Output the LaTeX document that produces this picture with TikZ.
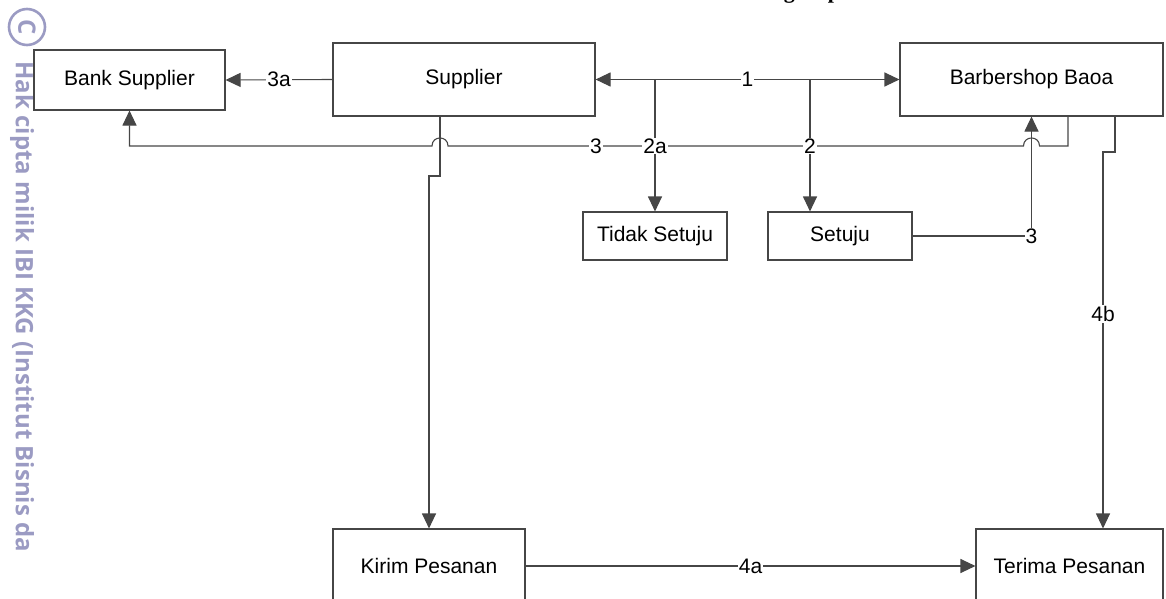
\documentclass[tikz,border=0pt]{standalone}
\usepackage{fontspec}
\setmainfont{Liberation Sans}
\newfontfamily\wmfont{Open Sans}
\newfontfamily\serifb{Liberation Serif}
\usetikzlibrary{arrows.meta,calc}
\definecolor{linec}{RGB}{70,70,70}
\definecolor{wmc}{RGB}{155,155,195}
\begin{document}
\begin{tikzpicture}[x=1pt,y=-1pt,
  box/.style={draw=linec,line width=1.1pt,fill=white,inner sep=0pt,font=\fontsize{21}{25}\selectfont},
  conn/.style={draw=linec,line width=1.1pt},
  tip/.style={Triangle[length=15pt,width=14pt]},
  arr/.style={conn,-{Triangle[length=15pt,width=14pt]}},
  lbl/.style={fill=white,inner sep=1pt,font=\fontsize{21}{25}\selectfont},
  wmtext/.style={text=wmc,font=\wmfont\bfseries\fontsize{24}{28}\selectfont}]
\useasboundingbox (0,0) rectangle (1166,599);

% title fragment cut off at the top
\node[anchor=base,font=\serifb\bfseries\fontsize{22}{26}\selectfont] (ttl) at (812,-1) {g\hspace{33pt}p};

% watermark
\node[circle,draw=wmc,line width=2.6pt,minimum size=36pt,inner sep=0pt,rotate=-90,wmtext] (cc) at (27,27) {C};
\node[rotate=-90,anchor=base west,wmtext] (wm) at (16,58) {Hak cipta milik IBI KKG (Institut Bisnis da};

% boxes
\node[box,minimum width=191pt,minimum height=60pt] (bank) at (129.5,80) {Bank Supplier};
\node[box,minimum width=262pt,minimum height=73pt] (sup) at (464,79.5) {Supplier};
\node[box,minimum width=263pt,minimum height=73pt] (barb) at (1031.5,79.5) {Barbershop Baoa};
\node[box,minimum width=144pt,minimum height=48pt] (tidak) at (655,236) {Tidak Setuju};
\node[box,minimum width=144pt,minimum height=48pt] (setuju) at (840,236) {Setuju};
\node[box,minimum width=192pt,minimum height=74pt] (kirim) at (429,566) {Kirim Pesanan};
\node[box,minimum width=187pt,minimum height=74pt] (terima) at (1069.5,566) {Terima Pesanan};

% 3a
\draw[arr] (sup.west) -- node[lbl]{3a} (bank.east);
% 1
\draw[conn,{Triangle[length=15pt,width=14pt]}-{Triangle[length=15pt,width=14pt]}] (sup.east) -- node[lbl]{1} (barb.west);
% branches 2a and 2
\coordinate (b2a) at (655,79.5);
\coordinate (b2) at (810,79.5);
\draw[arr] (b2a) -- (b2a |- tidak.north);
\draw[arr] (b2) -- (b2 |- setuju.north);
% 3 from Barbershop to Bank Supplier with jumps
\draw[arr] ([xshift=36.5pt]barb.south) |- (1039.5,146)
  .. controls (1039.5,135.3) and (1023.5,135.3) .. (1023.5,146)
  -- (448,146)
  .. controls (448,135.3) and (432,135.3) .. (432,146)
  -| (bank.south);
% Supplier to Kirim Pesanan
\coordinate (k1) at (440,176);
\draw[arr] ([xshift=-24pt]sup.south) -- (k1) -| (kirim.north);
% Setuju to Barbershop
\draw[arr] (setuju.east) -| (barb.south);
% Barbershop to Terima Pesanan
\coordinate (t1) at (1103,152);
\draw[arr] ([xshift=83.5pt]barb.south) |- (t1) -- ([xshift=33.5pt]terima.north);
% 4a
\draw[arr] (kirim.east) -- node[lbl]{4a} (terima.west);

% labels
\node[lbl] (l3) at (596,146) {3};
\node[lbl] (l2a) at (655,146) {2a};
\node[lbl] (l2) at (810,146) {2};
\node[lbl] (l3b) at (1031.5,236) {3};
\node[lbl] (l4b) at (1103,314) {4b};
\end{tikzpicture}
\end{document}
